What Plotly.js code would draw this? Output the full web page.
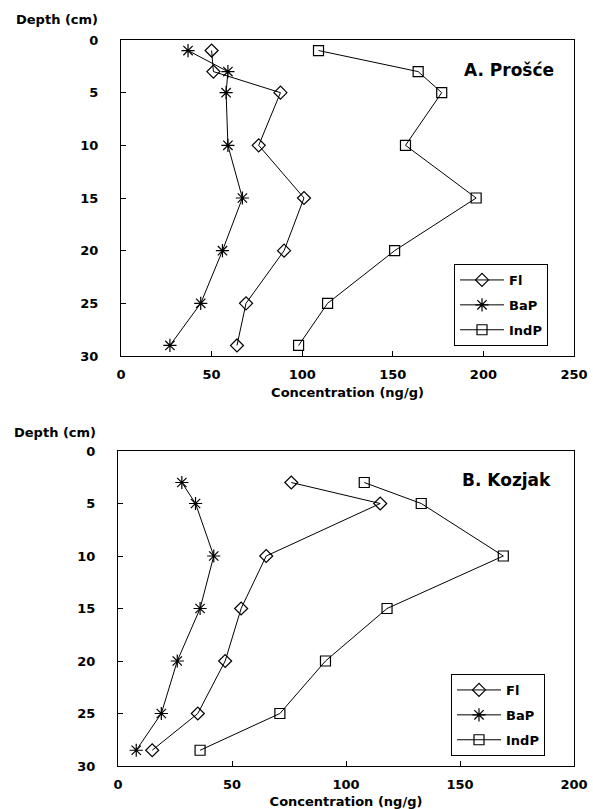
<!DOCTYPE html>
<html>
<head>
<meta charset="utf-8">
<script src="https://cdn.plot.ly/plotly-3.0.1.min.js"></script>
<style>html,body{margin:0;padding:0;background:#fff;}#chart{width:593px;height:809px;}</style>
</head>
<body>
<div id="chart"></div>
<script>
// Panel A: Prošće
const depthA = [1, 3, 5, 10, 15, 20, 25, 29];
const flA    = [50, 51, 88, 76, 101, 90, 69, 64];
const bapA   = [37, 59, 58, 59, 67, 56, 44, 27];
const indpA  = [109, 164, 177, 157, 196, 151, 114, 98];

// Panel B: Kozjak
const depthB = [3, 5, 10, 15, 20, 25, 28.5];
const flB    = [76, 115, 65, 54, 47, 35, 15];
const bapB   = [28, 34, 42, 36, 26, 19, 8];
const indpB  = [108, 133, 169, 118, 91, 71, 36];

const seriesNames = ["Fl", "BaP", "IndP"];
const xTicksA = [0, 50, 100, 150, 200, 250];
const xTicksB = [0, 50, 100, 150, 200];
const yTicks = [0, 5, 10, 15, 20, 25, 30];

const W = 593, H = 809;
const FONT = "DejaVu Sans, Verdana, sans-serif";
const symbols = ["diamond-open", "asterisk-open", "square-open"];
const sizes = [10, 11, 10];

function mk(x, y, i, xa, ya, leg) {
  return {
    x: x, y: y, type: "scatter", mode: "lines+markers",
    name: seriesNames[i], xaxis: xa, yaxis: ya, legend: leg,
    legendgroup: leg + "_" + i,
    line: {color: "#000", width: 1},
    marker: {symbol: symbols[i], size: sizes[i], color: "#000", line: {color: "#000", width: 1.2}}
  };
}

const traces = [
  mk(flA, depthA, 0, "x", "y", "legend"),
  mk(bapA, depthA, 1, "x", "y", "legend"),
  mk(indpA, depthA, 2, "x", "y", "legend"),
  mk(flB, depthB, 0, "x2", "y2", "legend2"),
  mk(bapB, depthB, 1, "x2", "y2", "legend2"),
  mk(indpB, depthB, 2, "x2", "y2", "legend2")
];

const tickFont = {family: FONT, size: 13, color: "#000", weight: "bold"};
function xax(range, ticks, domain, anchor) {
  return {
    domain: domain, anchor: anchor, range: range, tickvals: ticks,
    ticks: "inside", ticklen: 5, tickcolor: "#000", tickwidth: 1,
    showline: true, linecolor: "#000", linewidth: 1, mirror: true,
    showgrid: false, zeroline: false, tickfont: tickFont, ticklabelstandoff: 6,
    title: {text: "Concentration (ng/g)", font: {family: FONT, size: 13, color: "#000", weight: "bold"}, standoff: 7}
  };
}
function yax(domain, anchor) {
  return {
    domain: domain, anchor: anchor, range: [30, 0], tickvals: yTicks,
    ticks: "inside", ticklen: 5, tickcolor: "#000", tickwidth: 1,
    showline: true, linecolor: "#000", linewidth: 1, mirror: true,
    showgrid: false, zeroline: false, tickfont: tickFont, ticklabelstandoff: 19
  };
}

const legendBase = {
  bgcolor: "#fff", bordercolor: "#000", borderwidth: 1,
  font: {family: FONT, size: 13, color: "#000", weight: "bold"},
  xanchor: "left", yanchor: "top", tracegroupgap: 5, itemwidth: 44
};

const layout = {
  width: W, height: H,
  margin: {l: 0, r: 0, t: 0, b: 0},
  paper_bgcolor: "#fff", plot_bgcolor: "#fff",
  showlegend: true,
  xaxis: xax([0, 250], xTicksA, [121 / W, 574 / W], "y"),
  yaxis: yax([1 - 356 / H, 1 - 40 / H], "x"),
  xaxis2: xax([0, 200], xTicksB, [118 / W, 574 / W], "y2"),
  yaxis2: yax([1 - 766 / H, 1 - 451 / H], "x2"),
  legend: Object.assign({}, legendBase, {x: 454 / W, y: 1 - 264 / H}),
  legend2: Object.assign({}, legendBase, {x: 451 / W, y: 1 - 674 / H}),
  annotations: [
    {text: "Depth (cm)", xref: "paper", yref: "paper", x: 14 / W, y: 1 - 20 / H, xanchor: "left", yanchor: "middle", showarrow: false,
     font: {family: FONT, size: 13, color: "#000", weight: "bold"}},
    {text: "Depth (cm)", xref: "paper", yref: "paper", x: 12 / W, y: 1 - 432 / H, xanchor: "left", yanchor: "middle", showarrow: false,
     font: {family: FONT, size: 13, color: "#000", weight: "bold"}},
    {text: "A. Prošće", xref: "paper", yref: "paper", x: 462 / W, y: 1 - 70 / H, xanchor: "left", yanchor: "middle", showarrow: false,
     font: {family: FONT, size: 17, color: "#000", weight: "bold"}},
    {text: "B. Kozjak", xref: "paper", yref: "paper", x: 460 / W, y: 1 - 480 / H, xanchor: "left", yanchor: "middle", showarrow: false,
     font: {family: FONT, size: 17, color: "#000", weight: "bold"}}
  ]
};

Plotly.newPlot("chart", traces, layout, {displayModeBar: false, staticPlot: true});
</script>
</body>
</html>
